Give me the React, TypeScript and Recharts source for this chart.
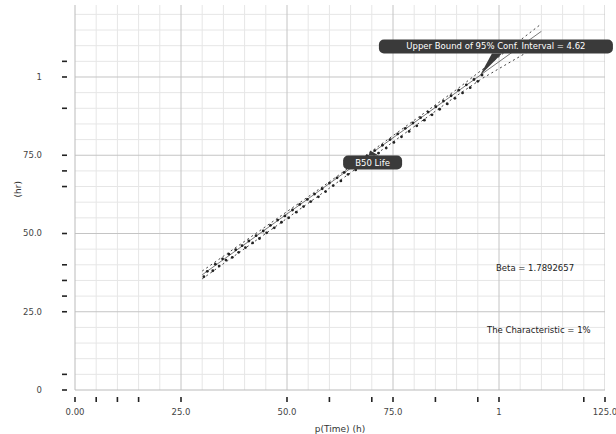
import {
  ComposedChart, Scatter, Line, XAxis, YAxis, ReferenceLine, ReferenceDot,
} from "recharts";

// tick values and labels
const xTicks = [0, 5, 10, 15, 25, 50, 60, 70, 75, 85, 95, 100, 120, 125];
const xLabels: Record<number, string> = { 0: "0.00", 25: "25.0", 50: "50.0", 75: "75.0", 100: "1", 125: "125.0" };
const yTicks = [0, 5, 25, 30, 35, 40, 50, 65, 70, 75, 90, 100, 105];
const yLabels: Record<number, string> = { 0: "0", 25: "25.0", 50: "50.0", 75: "75.0", 100: "1" };
const majorGrid = [25, 50, 75, 100, 125];
const minorGrid = [5, 10, 15, 20, 30, 35, 40, 45, 55, 60, 65, 70, 80, 85, 90, 95, 105, 110, 115, 120];

// observed points
const obsX = [
  30.4, 31.2, 32.5, 33.1, 34.0, 34.8, 35.6, 36.3, 37.1, 37.9, 38.6, 39.4, 40.2, 41.0, 41.9, 42.7,
  43.5, 44.4, 45.2, 46.1, 47.0, 47.8, 48.7, 49.5, 50.4, 51.3, 52.2, 53.0, 53.9, 54.8, 55.6, 56.5,
  57.4, 58.3, 59.1, 60.0, 60.9, 61.8, 62.7, 63.5, 64.4, 65.3, 66.2, 67.1, 68.0, 68.9, 69.8, 70.7,
  71.6, 72.5, 73.4, 74.3, 75.2, 76.1, 77.0, 77.9, 78.8, 79.7, 80.6, 81.5, 82.4, 83.3, 84.2, 85.1,
  86.0, 86.9, 87.8, 88.7, 89.6, 90.5, 91.4, 92.3, 93.2, 94.1, 95.0, 96.0,
];
const obsY = [
  36.2, 37.9, 38.1, 40.2, 39.6, 41.9, 41.5, 43.4, 42.4, 44.8, 44.0, 46.1, 45.5, 47.6, 47.0, 49.3,
  48.4, 50.8, 50.2, 52.6, 51.8, 54.3, 53.6, 55.6, 55.0, 57.5, 56.8, 59.3, 58.6, 60.9, 60.2, 62.6,
  61.7, 64.3, 63.4, 66.1, 65.3, 67.8, 66.8, 69.5, 68.9, 71.3, 70.3, 72.9, 72.2, 74.8, 73.9, 76.5,
  75.7, 78.2, 77.3, 80.0, 79.1, 81.8, 80.9, 83.6, 82.6, 85.3, 84.4, 87.0, 86.2, 88.8, 87.9, 90.5,
  89.7, 92.3, 91.4, 94.0, 93.2, 95.8, 94.9, 97.5, 96.6, 99.2, 98.6, 100.6,
];

// fitted line and confidence bounds
const fitX = [30, 110];
const fitY = [36.8, 114.6];
const upperX = [30, 60, 90, 110];
const upperY = [38, 66.5, 96, 117];
const lowerX = [30, 60, 90, 96, 108];
const lowerY = [35.5, 64.5, 94, 99.5, 109];

const points = obsX.map((x, i) => ({ x, y: obsY[i] }));
const fit = fitX.map((x, i) => ({ x, y: fitY[i] }));
const upper = upperX.map((x, i) => ({ x, y: upperY[i] }));
const lower = lowerX.map((x, i) => ({ x, y: lowerY[i] }));

const FONT = "'DejaVu Sans', sans-serif";

function XTick({ x, y, payload }: any) {
  const lab = xLabels[payload.value];
  return (
    <g>
      <line x1={x} x2={x} y1={y + 7} y2={y + 12} stroke="#222" strokeWidth={1.6} />
      {lab && (
        <text x={x} y={y + 25} textAnchor="middle" fontSize={8.5} fill="#444" fontFamily={FONT}>{lab}</text>
      )}
    </g>
  );
}

function YTick({ x, y, payload }: any) {
  const lab = yLabels[payload.value];
  return (
    <g>
      <line x1={x - 13} x2={x - 8} y1={y} y2={y} stroke="#222" strokeWidth={1.6} />
      {lab && (
        <text x={x - 33} y={y + 3} textAnchor="end" fontSize={8.5} fill="#444" fontFamily={FONT}>{lab}</text>
      )}
    </g>
  );
}

function Callout({ cx, cy, text, dx, dy, w }: any) {
  const bx = cx + dx;
  const by = cy + dy;
  const h = 14;
  const tipUp = dy > 0;
  const baseY = tipUp ? by : by + h;
  return (
    <g>
      <path d={`M${cx},${cy} L${bx + w / 2 - 4},${baseY} L${bx + w / 2 + 6},${baseY} Z`} fill="#3a3a3a" />
      <rect x={bx} y={by} width={w} height={h} rx={5} fill="#3a3a3a" />
      <text x={bx + w / 2} y={by + 10} textAnchor="middle" fontSize={8.5} fill="#fff" fontFamily={FONT}>{text}</text>
    </g>
  );
}

function Note({ cx, cy, text }: any) {
  return (
    <text x={cx} y={cy + 3} textAnchor="middle" fontSize={8.5} fill="#222" fontFamily={FONT}>{text}</text>
  );
}

export default function App() {
  return (
    <div style={{ position: "absolute", left: 0, top: 0, background: "#fff" }}>
      <ComposedChart width={616} height={434} margin={{ top: 5, right: 11, left: 0, bottom: 0 }}>
        <XAxis type="number" dataKey="x" domain={[0, 125]} ticks={xTicks} interval={0}
               tick={<XTick />} tickLine={false} tickSize={0} tickMargin={0} height={44}
               axisLine={{ stroke: "#bbb" }} allowDataOverflow
               label={{ value: "p(Time) (h)", position: "insideBottom", offset: 2, fontSize: 9, fill: "#333", fontFamily: FONT }} />
        <YAxis type="number" dataKey="y" domain={[0, 123]} ticks={yTicks} interval={0}
               tick={<YTick />} tickLine={false} tickSize={0} tickMargin={0} width={75}
               axisLine={{ stroke: "#bbb" }} allowDataOverflow
               label={{ value: "(hr)", angle: -90, position: "insideLeft", offset: 18, fontSize: 9, fill: "#333", fontFamily: FONT }} />
        {minorGrid.map(v => (
          <ReferenceLine key={"mx" + v} x={v} stroke="#e6e6e6" strokeWidth={1} ifOverflow="hidden" />
        ))}
        {minorGrid.map(v => (
          <ReferenceLine key={"my" + v} y={v} stroke="#e6e6e6" strokeWidth={1} ifOverflow="hidden" />
        ))}
        {majorGrid.map(v => (
          <ReferenceLine key={"Mx" + v} x={v} stroke="#c4c4c4" strokeWidth={1} ifOverflow="hidden" />
        ))}
        {majorGrid.map(v => (
          <ReferenceLine key={"My" + v} y={v} stroke="#c4c4c4" strokeWidth={1} ifOverflow="hidden" />
        ))}
        <Line data={upper} dataKey="y" type="linear" stroke="#444" strokeWidth={1}
              strokeDasharray="2 3" dot={false} isAnimationActive={false} />
        <Line data={lower} dataKey="y" type="linear" stroke="#444" strokeWidth={1}
              strokeDasharray="2 3" dot={false} isAnimationActive={false} />
        <Line data={fit} dataKey="y" type="linear" stroke="#555" strokeWidth={0.8}
              dot={false} isAnimationActive={false} />
        <Scatter data={points} fill="#222" isAnimationActive={false}
                 shape={(p: any) => <circle cx={p.cx} cy={p.cy} r={1.4} fill="#222" />} />
        <ReferenceDot x={95.5} y={100.5} r={3} ifOverflow="visible"
          shape={(p: any) => <Callout cx={p.cx} cy={p.cy} dx={-101} dy={-36} w={234}
            text="Upper Bound of 95% Conf. Interval = 4.62" />} />
        <ReferenceDot x={69.6} y={76.5} r={3} ifOverflow="visible"
          shape={(p: any) => <Callout cx={p.cx} cy={p.cy} dx={-27} dy={5} w={59} text="B50 Life" />} />
        <ReferenceDot x={108.5} y={39} r={1} ifOverflow="visible"
          shape={(p: any) => <Note cx={p.cx} cy={p.cy} text="Beta = 1.7892657" />} />
        <ReferenceDot x={109.4} y={19.1} r={1} ifOverflow="visible"
          shape={(p: any) => <Note cx={p.cx} cy={p.cy} text="The Characteristic = 1%" />} />
      </ComposedChart>
    </div>
  );
}
